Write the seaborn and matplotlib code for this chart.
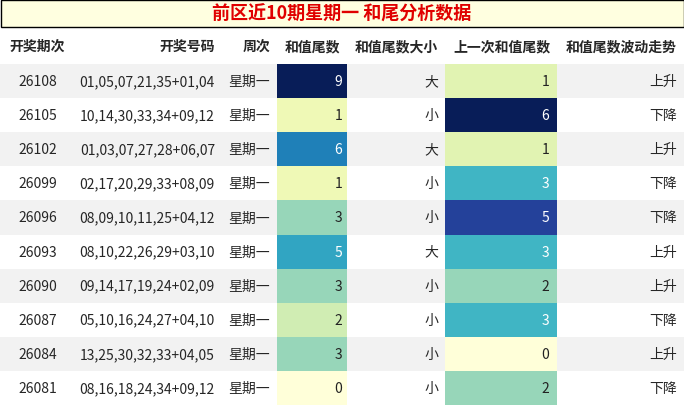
import matplotlib
matplotlib.use("Agg")
import matplotlib.pyplot as plt
import seaborn as sns
import numpy as np
from matplotlib.patches import Rectangle

periods = ["26108","26105","26102","26099","26096","26093","26090","26087","26084","26081"]
numbers = ["01,05,07,21,35+01,04","10,14,30,33,34+09,12","01,03,07,27,28+06,07","02,17,20,29,33+08,09",
           "08,09,10,11,25+04,12","08,10,22,26,29+03,10","09,14,17,19,24+02,09","05,10,16,24,27+04,10",
           "13,25,30,32,33+04,05","08,16,18,24,34+09,12"]
weekday = ["星期一"]*10
tail = [9,1,6,1,3,5,3,2,3,0]
size = ["大","小","大","小","小","大","小","小","小","小"]
prev_tail = [1,6,1,3,5,3,2,3,0,2]
trend = ["上升","下降","上升","下降","下降","上升","上升","下降","上升","下降"]
headers = ["开奖期次","开奖号码","周次","和值尾数","和值尾数大小","上一次和值尾数","和值尾数波动走势"]
title = "前区近10期星期一 和尾分析数据"

sns.set_theme(style="white")
plt.rcParams['font.family'] = ['Noto Sans CJK SC', 'DejaVu Sans']

W, H = 684, 406
fig = plt.figure(figsize=(6.84, 4.06), dpi=100)
ax = fig.add_axes([0, 0, 1, 1])
ax.set_xlim(0, W); ax.set_ylim(H, 0); ax.axis("off")

cols = [0, 75, 222, 277, 347, 445, 557, 684]
top, hdr_h = 29, 36
row_h = (H - top - hdr_h) / 10

ax.add_patch(Rectangle((0.5, 0.5), W-1, top-1.5, facecolor="#ffffe0", edgecolor="black", lw=1))
ax.text(W/2, top/2, title, color="#e00000", fontsize=13, fontweight="bold", ha="center", va="center")

for j, h in enumerate(headers):
    if j == 0:
        ax.text((cols[0]+cols[1])/2, top+hdr_h/2, h, ha="center", va="center", fontsize=10, fontweight="bold")
    else:
        ax.text(cols[j+1]-7, top+hdr_h/2, h, ha="right", va="center", fontsize=10, fontweight="bold")

y0 = top + hdr_h
for i in range(10):
    yc = y0 + (i+0.5)*row_h
    if i % 2 == 0:
        ax.add_patch(Rectangle((0, y0+i*row_h), W, row_h, facecolor="#f2f2f2", edgecolor="none"))
    ax.text((cols[0]+cols[1])/2, yc, periods[i], ha="center", va="center", fontsize=10)
    ax.text(cols[2]-7, yc, numbers[i], ha="right", va="center", fontsize=10)
    ax.text(cols[3]-7, yc, weekday[i], ha="right", va="center", fontsize=10)
    ax.text(cols[5]-7, yc, size[i], ha="right", va="center", fontsize=10)
    ax.text(cols[7]-7, yc, trend[i], ha="right", va="center", fontsize=10)

cmap = plt.get_cmap("YlGnBu")
for vals, c in [(tail, 3), (prev_tail, 5)]:
    x0, x1 = cols[c], cols[c+1]
    hax = fig.add_axes([x0/W, 0, (x1-x0)/W, (H-y0)/H])
    arr = np.array(vals).reshape(-1, 1)
    vmax = max(vals)
    sns.heatmap(arr, ax=hax, cmap=cmap, vmin=0, vmax=vmax, cbar=False, annot=False,
                xticklabels=False, yticklabels=False)
    for i, v in enumerate(vals):
        col = "white" if v/vmax > 0.45 else "#222222"
        hax.text(0.93, i+0.5, str(v), ha="right", va="center", fontsize=10, color=col)

fig.savefig("out.png", dpi=100)
